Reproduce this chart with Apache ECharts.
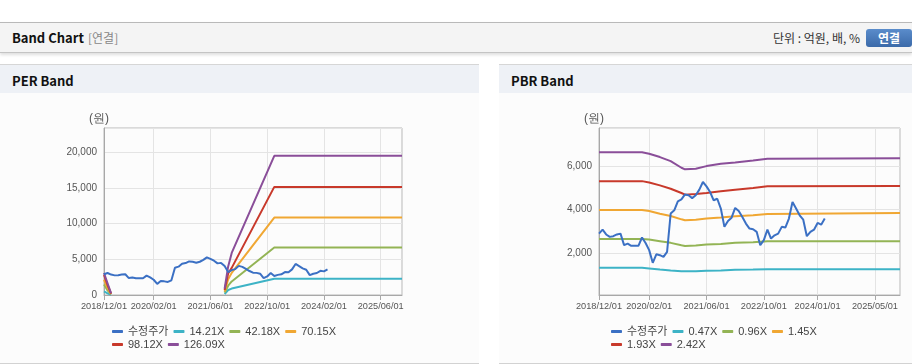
<!DOCTYPE html>
<html>
<head>
<meta charset="utf-8">
<script src="https://cdn.jsdelivr.net/npm/echarts@6/dist/echarts.min.js"></script>
<style>
  body { margin: 0; width: 912px; height: 364px; overflow: hidden; background: #fff; position: relative;
         font-family: 'Noto Sans CJK KR', 'Noto Sans', sans-serif; }
  .hdr { position: absolute; left: 0; top: 22px; width: 912px; height: 29px; background: #f4f4f4;
         border-top: 1px solid #b9b9b9; border-bottom: 1px solid #c4c4c4; box-shadow: 0 2px 3px rgba(0,0,0,0.13); }
  .hdr .ttl { position: absolute; left: 12px; top: 5px; font-size: 13px; font-weight: bold; color: #111; }
  .hdr .sub { position: absolute; left: 88px; top: 6px; font-size: 12px; color: #888; }
  .hdr .unit { position: absolute; right: 52px; top: 6px; font-size: 12px; color: #333; }
  .hdr .btn { position: absolute; left: 866px; top: 6px; width: 46px; height: 18px; border-radius: 3px;
              background: linear-gradient(#5a8ccb, #3b6aa9); color: #fff; font-size: 12px; font-weight: bold;
              text-align: center; line-height: 18px; }
  .panel { position: absolute; top: 64px; height: 298px; background: #fcfcfc;
           border-top: 1px solid #d6d6d6; border-bottom: 1px solid #d2d2d2; }
  .panel .bar { height: 28px; background: #eef1f6; }
  .panel .bar span { position: absolute; left: 12px; top: 6px; font-size: 13px; font-weight: bold; color: #111; }
  .chart { position: absolute; top: 93px; height: 269px; }
</style>
</head>
<body>
<div class="hdr">
  <span class="ttl">Band Chart</span><span class="sub">[연결]</span>
  <span class="unit">단위 : 억원, 배, %</span>
  <div class="btn">연결</div>
</div>
<div class="panel" style="left:0;width:479px"><div class="bar"><span>PER Band</span></div></div>
<div class="panel" style="left:499px;width:413px"><div class="bar"><span>PBR Band</span></div></div>
<div id="per" class="chart" style="left:0;width:479px"></div>
<div id="pbr" class="chart" style="left:499px;width:413px"></div>
<script>
// monthly categories 2018/12/01 .. 2025/12/01
const months = [];
for (let y = 2018, m = 12; y < 2026; ) {
  months.push(y + '/' + String(m).padStart(2, '0') + '/01');
  m++; if (m > 12) { m = 1; y++; }
}

const perTickLabels = ['2018/12/01', '2020/02/01', '2021/06/01', '2022/10/01', '2024/02/01', '2025/06/01'];
const pbrTickLabels = ['2018/12/01', '2020/02/01', '2021/06/01', '2022/10/01', '2024/01/01', '2025/05/01'];

// 수정주가, monthly from 2018/12
const priceValues = [2900, 3080, 2860, 2750, 2780, 2860, 2900, 2370, 2440, 2340, 2340, 2340, 2720, 2470, 2140, 1560,
  1950, 1910, 1830, 2060, 3820, 3970, 4380, 4470, 4700, 4660, 4530, 4660, 4920, 5270, 5070, 4810, 4430, 4500,
  4050, 3210, 3480, 3630, 4080, 3940, 3660, 3360, 3130, 3100, 2980, 2370, 2600, 3080, 2670, 2820, 2900, 3210,
  3180, 3590, 4350, 4050, 3740, 3540, 2780, 2980, 3080, 3390, 3310, 3590];

// PER band
const perNames = ['14.21X', '42.18X', '70.15X', '98.12X', '126.09X'];
const perLeftDates = ['2018/12/01', '2019/01/01', '2019/02/01'];
const perRightDates = ['2021/10/01', '2021/11/01', '2021/12/01', '2022/12/01', '2025/12/01'];
const per1421Left = [500, 230, 30],    per1421Right = [140, 700, 900, 2280, 2280];
const per4218Left = [1460, 650, 100],  per4218Right = [350, 1300, 1900, 6650, 6650];
const per7015Left = [2140, 1000, 150], per7015Right = [500, 2200, 3100, 10850, 10850];
const per9812Left = [2800, 1400, 200], per9812Right = [700, 3000, 3800, 15150, 15150];
const per12609Left = [3080, 1650, 250], per12609Right = [900, 4000, 5900, 19500, 19500];

// PBR band
const pbrNames = ['0.47X', '0.96X', '1.45X', '1.93X', '2.42X'];
const pbrDates = ['2018/12/01', '2019/12/01', '2020/02/01', '2020/05/01', '2020/08/01', '2020/11/01', '2020/12/01',
  '2021/03/01', '2021/06/01', '2021/10/01', '2022/02/01', '2022/07/01', '2022/11/01', '2025/12/01'];
const pbr047 = [1330, 1330, 1300, 1250, 1205, 1175, 1175, 1175, 1190, 1205, 1235, 1250, 1265, 1265];
const pbr096 = [2655, 2655, 2625, 2550, 2475, 2365, 2335, 2350, 2395, 2425, 2475, 2505, 2550, 2550];
const pbr145 = [3985, 3985, 3940, 3815, 3710, 3555, 3510, 3540, 3590, 3635, 3695, 3740, 3800, 3845];
const pbr193 = [5310, 5310, 5250, 5115, 4960, 4765, 4690, 4720, 4765, 4840, 4915, 4995, 5070, 5085];
const pbr242 = [6640, 6640, 6565, 6415, 6230, 5925, 5850, 5880, 6000, 6105, 6170, 6260, 6335, 6365];

const PRICE_COLOR = '#3b70c4';
const BAND_COLORS = ['#3db3c6', '#93b455', '#f0a733', '#c8392b', '#8a4e99'];
const LABEL_FONT = "'Liberation Sans', sans-serif";

const zip = (dates, vals) => dates.map((d, i) => [d, vals[i]]);

function lineSeries(name, data, color) {
  return {
    name, type: 'line', data, showSymbol: false, symbol: 'none', connectNulls: false,
    lineStyle: { width: 2, color }, itemStyle: { color }, emphasis: { disabled: true }
  };
}

function legendRow(names, top) {
  return {
    data: names.map(n => ({ name: n })), left: 107, top, orient: 'horizontal',
    icon: 'roundRect', itemWidth: 11, itemHeight: 3, itemGap: 5,
    formatter: n => '{t|' + n + '}',
    textStyle: {
      color: '#444', fontSize: 11,
      rich: { t: { width: 44, color: '#444', fontSize: 11, fontFamily: "'Liberation Sans', 'Noto Sans CJK KR', sans-serif" } }
    },
    selectedMode: false
  };
}

function buildOption(cfg) {
  const showIdx = new Set(cfg.ticks.map(t => months.indexOf(t)));
  const at = (i) => showIdx.has(i);
  return {
    animation: false,
    grid: { left: cfg.left, top: 35, width: cfg.width, height: 167, show: true, borderColor: '#b9b9b9', borderWidth: 1 },
    xAxis: {
      type: 'category', data: months, boundaryGap: false,
      axisLine: { lineStyle: { color: '#a8a8a8' } },
      axisTick: { interval: at, length: 5, lineStyle: { color: '#a8a8a8' } },
      axisLabel: {
        interval: 0, hideOverlap: false, color: '#555', fontSize: 9.2, fontFamily: LABEL_FONT, margin: 7,
        formatter: (v) => (cfg.ticks.includes(v) ? v : '')
      },
      splitLine: { show: true, interval: at, lineStyle: { color: '#e4e4e4' } }
    },
    yAxis: {
      type: 'value', min: cfg.yMin, max: cfg.yMax, interval: cfg.yInterval,
      name: '(원)', nameLocation: 'end', nameGap: 3,
      nameTextStyle: { color: '#555', fontSize: 12, align: 'center', padding: [0, 10, 0, 0] },
      axisLine: { show: true, lineStyle: { color: '#a8a8a8' } },
      axisTick: { show: false },
      axisLabel: {
        color: '#555', fontSize: 10, fontFamily: LABEL_FONT, margin: 7, showMaxLabel: false,
        showMinLabel: cfg.showZero,
        formatter: v => (v % cfg.labelStep === 0 ? v.toLocaleString('en-US') : '')
      },
      splitLine: { lineStyle: { color: '#e4e4e4' } }
    },
    legend: [legendRow(cfg.legend1, 228), legendRow(cfg.legend2, 241)],
    series: cfg.series
  };
}

// PER chart
const perBandLeft = [per1421Left, per4218Left, per7015Left, per9812Left, per12609Left];
const perBandRight = [per1421Right, per4218Right, per7015Right, per9812Right, per12609Right];
const perSeries = perNames.map((n, k) => lineSeries(n,
  zip(perLeftDates, perBandLeft[k]).concat([['2019/03/01', null]], zip(perRightDates, perBandRight[k])), BAND_COLORS[k]));
perSeries.push(lineSeries('수정주가', priceValues, PRICE_COLOR));

const perChart = echarts.init(document.getElementById('per'));
perChart.setOption(buildOption({
  left: 104, width: 298, ticks: perTickLabels, yMin: 0, yMax: 23400, yInterval: 5000, labelStep: 5000, showZero: true,
  legend1: ['수정주가', perNames[0], perNames[1], perNames[2]], legend2: [perNames[3], perNames[4]],
  series: perSeries
}));

// PBR chart
const pbrBands = [pbr047, pbr096, pbr145, pbr193, pbr242];
const pbrSeries = pbrNames.map((n, k) => lineSeries(n, zip(pbrDates, pbrBands[k]), BAND_COLORS[k]));
pbrSeries.push(lineSeries('수정주가', priceValues, PRICE_COLOR));

const pbrChart = echarts.init(document.getElementById('pbr'));
pbrChart.setOption(buildOption({
  left: 100, width: 301, ticks: pbrTickLabels, yMin: 80, yMax: 7750, yInterval: undefined, labelStep: 2000, showZero: false,
  legend1: ['수정주가', pbrNames[0], pbrNames[1], pbrNames[2]], legend2: [pbrNames[3], pbrNames[4]],
  series: pbrSeries
}));
</script>
</body>
</html>
